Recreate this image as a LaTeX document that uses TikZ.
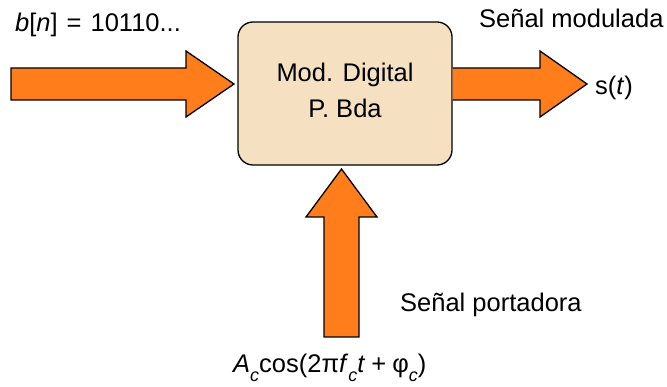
\documentclass[tikz,border=0pt]{standalone}
\usepackage{fontspec}
\setmainfont{Liberation Sans}
\definecolor{arroworange}{RGB}{255,125,26}
\definecolor{boxbeige}{RGB}{245,225,194}
\newcommand{\subc}{\raisebox{-0.32em}{\fontsize{18}{18}\selectfont\itshape c}}
\tikzset{
  blockarrow/.style={draw=black, line width=1.3pt, fill=arroworange, line join=miter},
  modbox/.style={draw=black, line width=1.3pt, fill=boxbeige, rounded corners=15pt,
    minimum width=214pt, minimum height=143pt, align=center, inner sep=0pt},
  lbl/.style={inner sep=0pt, anchor=base west},
}
\begin{document}
\begin{tikzpicture}[x=1pt,y=-1pt]
\useasboundingbox (0,0) rectangle (667,387);
\fontsize{25.5}{36}\selectfont
% block
\node[modbox] (box) at (345,93.5) {};
\node[inner sep=0pt, anchor=base] (l1) at (345,82) {Mod. Digital};
\node[inner sep=0pt, anchor=base] (l2) at (345,118) {P. Bda};
% input arrow
\draw[blockarrow] (11,68) -- (186,68) -- (186,51) -- (234,84) -- (186,117) -- (186,100) -- (11,100) -- cycle;
% output arrow
\draw[blockarrow] (box.east |- 0,68) -- (540,68) -- (540,51) -- (587,84) -- (540,117) -- (540,100) -- (box.east |- 0,100);
% carrier arrow
\draw[blockarrow] (324,337) -- (324,217) -- (306,217) -- (341.5,169) -- (377,217) -- (359,217) -- (359,337) -- cycle;
% labels
\node[lbl] (bn) at (15,32) {\textit{b}[\textit{n}]\hspace{9pt}=\hspace{9pt}10110...};
\node[lbl] (sm) at (479,28) {Señal modulada};
\node[lbl] (st) at (595,95) {s(\textit{t})};
\node[lbl] (sp) at (400,312) {Señal portadora};
\node[lbl] (ac) at (233,373) {\textit{A}\subc cos(2π\textit{f}\subc\textit{t}\hspace{6pt}+\hspace{6pt}φ\subc)};
\end{tikzpicture}
\end{document}
